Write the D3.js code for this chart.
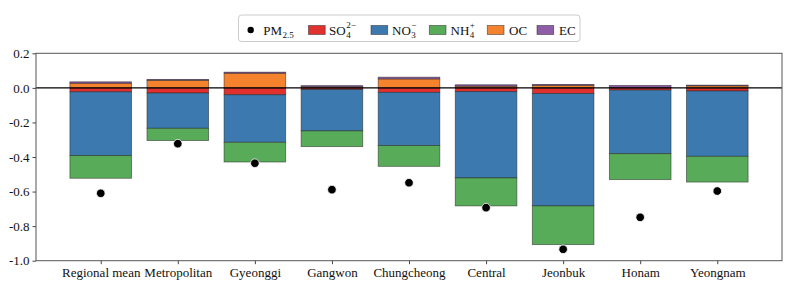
<!DOCTYPE html>
<html>
<head>
<meta charset="utf-8">
<script src="https://cdn.jsdelivr.net/npm/d3@7"></script>
<style>
  body { margin: 0; background: #fff; }
  svg text { font-family: "Liberation Serif", "Times New Roman", serif; fill: #111; }
</style>
</head>
<body>
<div id="chart"></div>
<script>
// Change of PM2.5 and its components by region

const categories = ["Regional mean", "Metropolitan", "Gyeonggi", "Gangwon", "Chungcheong",
  "Central", "Jeonbuk", "Honam", "Yeongnam"];
const pm25 = [-0.610, -0.323, -0.436, -0.589, -0.549, -0.693, -0.934, -0.749, -0.597];
const so4 = [-0.023, -0.030, -0.040, -0.010, -0.026, -0.022, -0.033, -0.013, -0.018];
const no3 = [-0.369, -0.204, -0.275, -0.239, -0.308, -0.499, -0.650, -0.368, -0.378];
const nh4 = [-0.131, -0.071, -0.114, -0.091, -0.120, -0.162, -0.224, -0.150, -0.149];
const oc = [0.027, 0.044, 0.085, 0.006, 0.052, 0.010, 0.015, 0.002, 0.012];
const ec = [0.008, 0.005, 0.006, 0.007, 0.010, 0.008, 0.005, 0.012, 0.004];
const yTicks = [0.2, 0.0, -0.2, -0.4, -0.6, -0.8, -1.0];

const keys = ["so4", "no3", "nh4", "oc", "ec"];
const colors = { so4: "#e0312f", no3: "#3b79ae", nh4: "#58ab58", oc: "#f5832e", ec: "#8f5ca8" };

const width = 800, height = 295;
const mLeft = 36, mRight = 782, mTop = 53.3, mBottom = 260.7;
const serif = '"Liberation Serif", "Times New Roman", serif';

const svg = d3.select("#chart").append("svg")
  .attr("width", width).attr("height", height)
  .style("font-family", serif);

const x = d3.scaleLinear().domain([-0.84, categories.length - 1 + 0.84]).range([mLeft, mRight]);
const y = d3.scaleLinear().domain([-1.0, 0.2]).range([mBottom, mTop]);
const barW = x(0.8) - x(0);

// build rows for stacking
const rows = categories.map((c, i) => ({
  cat: c, i: i, so4: so4[i], no3: no3[i], nh4: nh4[i], oc: oc[i], ec: ec[i]
}));
const stacked = d3.stack().keys(keys).offset(d3.stackOffsetDiverging)(rows);

// bars
svg.append("g").selectAll("g")
  .data(stacked)
  .join("g")
  .attr("fill", d => colors[d.key])
  .selectAll("rect")
  .data(d => d)
  .join("rect")
  .attr("x", d => x(d.data.i) - barW / 2)
  .attr("y", d => y(Math.max(d[0], d[1])))
  .attr("width", barW)
  .attr("height", d => Math.abs(y(d[0]) - y(d[1])))
  .attr("stroke", "#222")
  .attr("stroke-opacity", 0.6)
  .attr("stroke-width", 0.8);

// zero line
svg.append("line")
  .attr("x1", mLeft).attr("x2", mRight)
  .attr("y1", y(0)).attr("y2", y(0))
  .attr("stroke", "#000").attr("stroke-width", 1.2);

// PM2.5 dots
svg.append("g").selectAll("circle")
  .data(pm25)
  .join("circle")
  .attr("cx", (d, i) => x(i))
  .attr("cy", d => y(d))
  .attr("r", 4.3)
  .attr("fill", "#000")
  .attr("stroke", "#fff")
  .attr("stroke-width", 0.8);

// axes
const yAxis = d3.axisLeft(y).tickValues(yTicks).tickSize(3.5).tickPadding(3)
  .tickFormat(d => d3.format(".1f")(d).replace("\u2212", "-"));
const xAxis = d3.axisBottom(x).tickValues(d3.range(categories.length)).tickSize(3.5).tickPadding(4)
  .tickFormat(i => categories[i]);

const gy = svg.append("g").attr("transform", `translate(${mLeft},0)`).call(yAxis);
const gx = svg.append("g").attr("transform", `translate(0,${mBottom})`).call(xAxis);
[gx, gy].forEach(g => {
  g.attr("font-family", serif);
  g.select(".domain").remove();
  g.selectAll("line").attr("stroke", "#444");
  g.selectAll("text").attr("font-size", 13).attr("fill", "#111");
});

// frame
svg.append("rect")
  .attr("x", mLeft).attr("y", mTop)
  .attr("width", mRight - mLeft).attr("height", mBottom - mTop)
  .attr("fill", "none").attr("stroke", "#555").attr("stroke-width", 1);

// legend
const legend = svg.append("g");
legend.append("rect")
  .attr("x", 238.5).attr("y", 15).attr("width", 341.5).attr("height", 26.5)
  .attr("rx", 3).attr("fill", "#fff").attr("stroke", "#ccc").attr("stroke-width", 1);

const ly = 30;
legend.append("circle").attr("cx", 250.7).attr("cy", ly).attr("r", 3.2).attr("fill", "#000");

// chemical label: base text with stacked subscript / superscript
function chem(xPos, base, sub, sup) {
  const t = legend.append("text").attr("x", xPos).attr("y", ly + 4.5).attr("font-size", 13).text(base);
  const w = t.node().getComputedTextLength();
  if (sub) {
    legend.append("text").attr("x", xPos + w + 0.5).attr("y", ly + 8)
      .attr("font-size", 9).text(sub);
  }
  if (sup) {
    legend.append("text").attr("x", xPos + w + 0.5).attr("y", ly - 2)
      .attr("font-size", 9).text(sup);
  }
}

chem(263.3, "PM", "2.5", null);

const swatches = [
  { key: "so4", x: 308.5, tx: 329, base: "SO", sub: "4", sup: "2\u2212" },
  { key: "no3", x: 371, tx: 392, base: "NO", sub: "3", sup: "\u2212" },
  { key: "nh4", x: 429.3, tx: 450.5, base: "NH", sub: "4", sup: "+" },
  { key: "oc", x: 487.3, tx: 509, base: "OC", sub: null, sup: null },
  { key: "ec", x: 537, tx: 559, base: "EC", sub: null, sup: null }
];
swatches.forEach(s => {
  legend.append("rect")
    .attr("x", s.x).attr("y", ly - 4.5).attr("width", 16.7).attr("height", 9)
    .attr("fill", colors[s.key]).attr("stroke", "#222").attr("stroke-opacity", 0.6).attr("stroke-width", 0.8);
  chem(s.tx, s.base, s.sub, s.sup);
});
</script>
</body>
</html>
